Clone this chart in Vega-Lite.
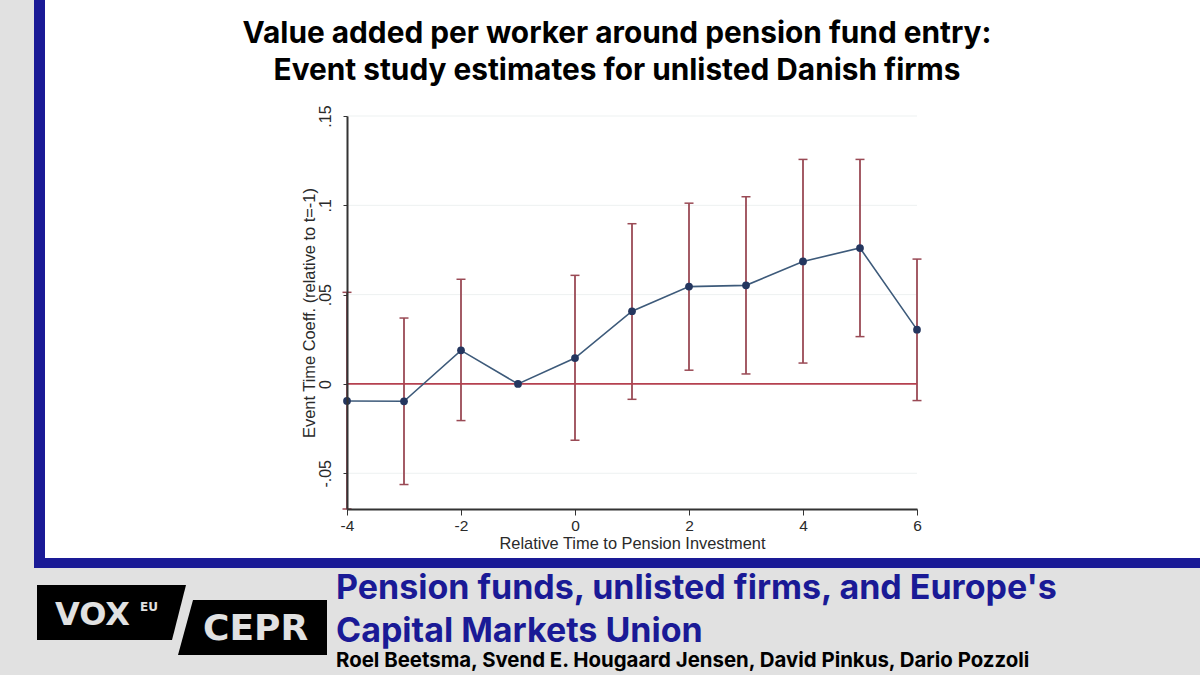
{
  "$schema": "https://vega.github.io/schema/vega-lite/v6.json",
  "autosize": {"type": "none"},
  "padding": {"left": 347, "top": 116, "right": 283, "bottom": 166},
  "width": 570,
  "height": 393,
  "background": "#ffffff",
  "config": {"view": {"stroke": null}},
  "title": {
    "text": ["Value added per worker around pension fund entry:", "Event study estimates for unlisted Danish firms"],
    "anchor": "middle",
    "font": "Inter",
    "fontSize": 29.8,
    "fontWeight": 700,
    "lineHeight": 37,
    "color": "#000000",
    "dx": -15,
    "dy": 90
  },
  "datasets": {
    "coef": [
      {"t": -4, "b": -0.0095, "lo": -0.07, "hi": 0.0513},
      {"t": -3, "b": -0.0097, "lo": -0.0563, "hi": 0.0369},
      {"t": -2, "b": 0.0188, "lo": -0.0205, "hi": 0.0586},
      {"t": -1, "b": 0},
      {"t": 0, "b": 0.0145, "lo": -0.0315, "hi": 0.0608},
      {"t": 1, "b": 0.0407, "lo": -0.0086, "hi": 0.0897},
      {"t": 2, "b": 0.0545, "lo": 0.0077, "hi": 0.1012},
      {"t": 3, "b": 0.0552, "lo": 0.0056, "hi": 0.1048},
      {"t": 4, "b": 0.0686, "lo": 0.0117, "hi": 0.1257},
      {"t": 5, "b": 0.0761, "lo": 0.0265, "hi": 0.1257},
      {"t": 6, "b": 0.0304, "lo": -0.0093, "hi": 0.0699}
    ],
    "gridlines": [{"v": -0.05}, {"v": 0.05}, {"v": 0.1}, {"v": 0.15}],
    "one": [{}]
  },
  "layer": [
    {"data": {"name": "one"}, "mark": {"type": "rect", "x": -347, "x2": -313, "y": -116, "y2": 559, "fill": "#e1e1e1"}, "encoding": {}},
    {"data": {"name": "one"}, "mark": {"type": "rect", "x": -313, "x2": 853, "y": 452, "y2": 559, "fill": "#e1e1e1"}, "encoding": {}},
    {"data": {"name": "one"}, "mark": {"type": "rect", "x": -313, "x2": -302, "y": -116, "y2": 452, "fill": "#1a1a96"}, "encoding": {}},
    {"data": {"name": "one"}, "mark": {"type": "rect", "x": -302, "x2": 853, "y": 442, "y2": 452, "fill": "#1a1a96"}, "encoding": {}},
    {"data": {"name": "one"}, "mark": {"type": "point", "filled": true, "opacity": 1, "fill": "#000000", "size": 4, "x": 0, "y": 0, "shape": "M-310 469L-161 469L-175 524L-310 524Z"}, "encoding": {}},
    {"data": {"name": "one"}, "mark": {"type": "point", "filled": true, "opacity": 1, "fill": "#000000", "size": 4, "x": 0, "y": 0, "shape": "M-154 484L-20 484L-20 539L-169 539Z"}, "encoding": {}},
    {"data": {"name": "one"}, "mark": {"type": "text", "text": "VOX", "x": -292, "y": 509, "align": "left", "baseline": "alphabetic", "font": "DejaVu Sans", "fontWeight": 700, "fontSize": 32, "fill": "#e1e1e1"}, "encoding": {}},
    {"data": {"name": "one"}, "mark": {"type": "text", "text": "EU", "x": -207, "y": 495, "align": "left", "baseline": "alphabetic", "font": "DejaVu Sans", "fontWeight": 700, "fontSize": 12, "fill": "#e1e1e1"}, "encoding": {}},
    {"data": {"name": "one"}, "mark": {"type": "text", "text": "CEPR", "x": -144, "y": 524, "align": "left", "baseline": "alphabetic", "font": "DejaVu Sans", "fontWeight": 700, "fontSize": 36, "fill": "#e1e1e1"}, "encoding": {}},
    {"data": {"name": "one"}, "mark": {"type": "text", "text": "Pension funds, unlisted firms, and Europe's", "x": -11, "y": 483, "align": "left", "baseline": "alphabetic", "font": "Inter", "fontWeight": 700, "fontSize": 34, "fill": "#1a1a96"}, "encoding": {}},
    {"data": {"name": "one"}, "mark": {"type": "text", "text": "Capital Markets Union", "x": -11, "y": 526, "align": "left", "baseline": "alphabetic", "font": "Inter", "fontWeight": 700, "fontSize": 34, "fill": "#1a1a96"}, "encoding": {}},
    {"data": {"name": "one"}, "mark": {"type": "text", "text": "Roel Beetsma, Svend E. Hougaard Jensen, David Pinkus, Dario Pozzoli", "x": -11, "y": 551, "align": "left", "baseline": "alphabetic", "font": "Inter", "fontWeight": 700, "fontSize": 20.4, "fill": "#000000"}, "encoding": {}},
    {
      "data": {"name": "gridlines"},
      "mark": {"type": "rule", "color": "#edf1f1", "strokeWidth": 1},
      "encoding": {"y": {"field": "v", "type": "quantitative"}}
    },
    {
      "data": {"name": "coef"},
      "transform": [{"filter": "isValid(datum.hi)"}],
      "mark": {"type": "rule", "color": "#9a4a55", "strokeWidth": 1.8},
      "encoding": {
        "x": {
          "field": "t",
          "type": "quantitative",
          "scale": {"domain": [-4, 6], "nice": false, "zero": false},
          "title": "Relative Time to Pension Investment",
          "axis": {
            "values": [-4, -2, 0, 2, 4, 6],
            "labelExpr": "'' + datum.value",
            "grid": false,
            "domainColor": "#333333",
            "domainWidth": 2,
            "tickColor": "#333333",
            "tickSize": 6,
            "tickWidth": 1,
            "labelFont": "Liberation Sans",
            "labelFontSize": 15.5,
            "labelColor": "#2a2a2a",
            "labelPadding": 3,
            "labelFlush": false,
            "titleFont": "Liberation Sans",
            "titleFontSize": 16.4,
            "titleFontWeight": 400,
            "titleColor": "#2a2a2a",
            "titlePadding": 2,
            "zindex": 1
          }
        },
        "y": {
          "field": "lo",
          "type": "quantitative",
          "scale": {"domain": [-0.07, 0.15], "nice": false, "zero": false},
          "title": "Event Time Coeff. (relative to t=-1)",
          "axis": {
            "values": [-0.05, 0, 0.05, 0.1, 0.15],
            "labelExpr": "replace('' + datum.value, '0.', '.')",
            "labelAngle": -90,
            "labelAlign": "center",
            "labelBaseline": "bottom",
            "grid": false,
            "domainColor": "#333333",
            "domainWidth": 2,
            "tickColor": "#333333",
            "tickSize": 4,
            "tickWidth": 1,
            "labelFont": "Liberation Sans",
            "labelFontSize": 16,
            "labelColor": "#2a2a2a",
            "labelPadding": 10,
            "titleFont": "Liberation Sans",
            "titleFontSize": 16.4,
            "titleFontWeight": 400,
            "titleColor": "#2a2a2a",
            "titleX": -30,
            "zindex": 1
          }
        },
        "y2": {"field": "hi"}
      }
    },
    {
      "data": {"name": "coef"},
      "transform": [{"filter": "isValid(datum.hi)"}],
      "mark": {"type": "tick", "orient": "horizontal", "color": "#9a4a55", "size": 9, "thickness": 1.5, "opacity": 1},
      "encoding": {
        "x": {"field": "t", "type": "quantitative"},
        "y": {"field": "hi", "type": "quantitative"}
      }
    },
    {
      "data": {"name": "coef"},
      "transform": [{"filter": "isValid(datum.hi)"}],
      "mark": {"type": "tick", "orient": "horizontal", "color": "#9a4a55", "size": 9, "thickness": 1.5, "opacity": 1},
      "encoding": {
        "x": {"field": "t", "type": "quantitative"},
        "y": {"field": "lo", "type": "quantitative"}
      }
    },
    {
      "data": {"name": "one"},
      "mark": {"type": "rule", "color": "#b5404f", "strokeWidth": 1.8},
      "encoding": {"y": {"datum": 0}}
    },
    {
      "data": {"name": "coef"},
      "mark": {"type": "line", "color": "#3d5a7a", "strokeWidth": 1.6},
      "encoding": {
        "x": {"field": "t", "type": "quantitative"},
        "y": {"field": "b", "type": "quantitative"}
      }
    },
    {
      "data": {"name": "coef"},
      "mark": {"type": "point", "filled": true, "color": "#24365f", "size": 60, "opacity": 1},
      "encoding": {
        "x": {"field": "t", "type": "quantitative"},
        "y": {"field": "b", "type": "quantitative"}
      }
    }
  ]
}
